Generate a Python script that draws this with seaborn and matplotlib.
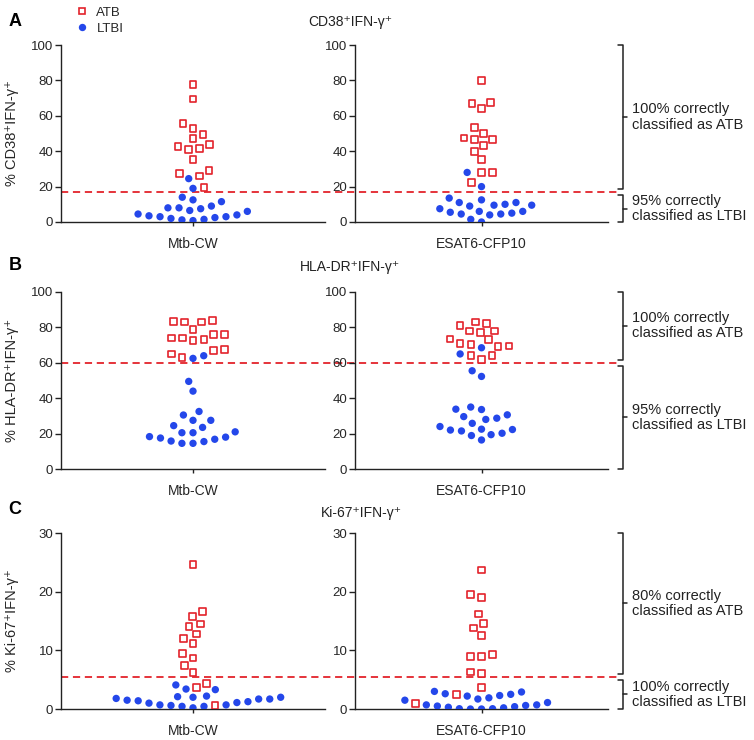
import numpy as np
import pandas as pd
import matplotlib
matplotlib.use("Agg")
import matplotlib.pyplot as plt
from matplotlib.lines import Line2D
from matplotlib.markers import MarkerStyle
from matplotlib.colors import to_rgba
import seaborn as sns

antigens = ["Mtb-CW", "ESAT6-CFP10"]

# panel A: CD38+IFN-g+
cd38_atb_cw = [77.5, 69.5, 55.5, 53, 49.5, 47, 44, 42.5, 41.5, 41, 35.5, 29, 27.5, 26, 19.5]
cd38_ltbi_cw = [24.5, 19, 14, 12.5, 11.5, 9, 8, 7.5, 8, 6, 6.5, 4, 3.5, 4.5, 3, 2.5, 3, 1.5, 2, 0.8, 1.2]
cd38_atb_esat = [80, 67.5, 67, 64, 53.5, 50, 47.5, 46.5, 46.5, 43, 40, 35.5, 28, 28, 22.5]
cd38_ltbi_esat = [28, 20, 13.5, 12.5, 11, 11, 10, 9.5, 9, 9.5, 7.5, 6, 5.5, 4.5, 4, 4.5, 5, 6, 1.5, 0]

# panel B: HLA-DR+IFN-g+
hla_atb_cw = [84, 83.5, 83, 83, 79, 76, 76, 74, 74, 73, 72.5, 67.5, 67, 65, 63]
hla_ltbi_cw = [64, 62.5, 49.5, 44, 30.5, 32.5, 24.5, 27.5, 27.5, 23.5, 21, 20.5, 20.5, 18, 16.8,
               15.5, 14.5, 14.5, 15.8, 17.5, 18.3]
hla_atb_esat = [83, 82, 81, 78, 78, 77, 73.5, 73, 71, 70.5, 69.5, 69, 64, 64, 62]
hla_ltbi_esat = [68.5, 65, 55.5, 52.3, 35, 33.6, 33.8, 29.6, 30.6, 28.7, 28, 25.8, 24, 22.3, 21.5,
                 22.5, 22, 19.4, 18.9, 20.2, 16.4]

# panel C: Ki-67+IFN-g+
ki67_atb_cw = [24.6, 16.6, 15.8, 14.5, 14.1, 12.8, 12, 11.1, 9.4, 8.7, 7.4, 6.2, 4.4, 3.7, 0.6]
ki67_ltbi_cw = [4.1, 3.3, 3.4, 2.2, 2.0, 1.8, 1.7, 1.4, 1.1, 0.7, 0.6, 0.2, 0.45, 0.45, 0.7, 1.0,
                1.25, 1.5, 1.7, 2.0, 2.1]
ki67_atb_esat = [23.7, 19.5, 19, 16.2, 14.6, 13.8, 12.5, 9.3, 9, 9, 6.3, 6.1, 3.7, 2.5, 0.9]
ki67_ltbi_esat = [3.0, 2.6, 2.5, 2.9, 2.2, 1.9, 2.3, 1.7, 1.1, 0.7, 0.6, 0.4, 0.2, 0.05, 0, 0, 0.05,
                  0.3, 0.5, 0.7, 1.5]

cutoffs = [16.8, 60.0, 5.5]
titles = ["CD38\u207aIFN-\u03b3\u207a", "HLA-DR\u207aIFN-\u03b3\u207a", "Ki-67\u207aIFN-\u03b3\u207a"]
ylabels = ["% " + t for t in titles]
letters = ["A", "B", "C"]
ymaxes = [100, 100, 30]
yticks = [[0, 20, 40, 60, 80, 100], [0, 20, 40, 60, 80, 100], [0, 10, 20, 30]]
upper_txt = ["100% correctly\nclassified as ATB", "100% correctly\nclassified as ATB",
             "80% correctly\nclassified as ATB"]
lower_txt = ["95% correctly\nclassified as LTBI", "95% correctly\nclassified as LTBI",
             "100% correctly\nclassified as LTBI"]

atb_sets = [[cd38_atb_cw, cd38_atb_esat], [hla_atb_cw, hla_atb_esat], [ki67_atb_cw, ki67_atb_esat]]
ltbi_sets = [[cd38_ltbi_cw, cd38_ltbi_esat], [hla_ltbi_cw, hla_ltbi_esat], [ki67_ltbi_cw, ki67_ltbi_esat]]

RED = "#e3232b"
BLUE = "#2447ea"
INK = "#222222"

sns.set_style("ticks")
plt.rcParams["font.family"] = ["Liberation Sans", "DejaVu Sans"]

W, H = 754, 740
fig = plt.figure(figsize=(W / 100, H / 100), dpi=100)


def marker_path(m):
    ms = MarkerStyle(m)
    return ms.get_path().transformed(ms.get_transform())


SQUARE = marker_path("s")
CIRCLE = marker_path("o")

# axes boxes in pixels: (left, right), (top, bottom) of each row
cols_px = [(61, 325), (355, 608)]
rows_px = [(45, 222), (292, 469), (533, 709)]
title_y = [22, 267, 513]
title_x = [350, 350, 361]
letter_y = [22, 266, 509]

swarms = []
for r in range(3):
    top, bot = rows_px[r]
    axes = []
    for c in range(2):
        l, rr = cols_px[c]
        ax = fig.add_axes([l / W, 1 - bot / H, (rr - l) / W, (bot - top) / H])
        ax.patch.set_visible(False)
        axes.append(ax)
        atb = atb_sets[r][c]
        ltbi = ltbi_sets[r][c]
        df = pd.DataFrame({
            "antigen": antigens[c],
            "group": ["LTBI"] * len(ltbi) + ["ATB"] * len(atb),
            "value": ltbi + atb,
        })
        # one swarm for both groups; marker size here sets the spacing
        sns.swarmplot(data=df, x="antigen", y="value", hue="group",
                      palette={"ATB": RED, "LTBI": BLUE}, size=7.6, linewidth=0,
                      legend=False, ax=ax)
        swarms.append((ax.collections[0], (df["group"] == "ATB").to_numpy()))

        ax.set_xlim(-0.5, 0.5)
        ax.set_ylim(0, ymaxes[r])
        ax.set_yticks(yticks[r])
        ax.set_xlabel("")
        ax.set_ylabel(ylabels[r] if c == 0 else "", fontsize=10.5)
        ax.yaxis.set_label_coords(-0.16, 0.5)
        sns.despine(ax=ax)
        for s in ["left", "bottom"]:
            ax.spines[s].set_linewidth(1.0)
            ax.spines[s].set_color(INK)
        ax.tick_params(axis="y", length=4, width=1.0, pad=1.5, labelsize=9.5, color=INK)
        ax.tick_params(axis="x", length=3, width=1.0, pad=8, labelsize=10, color=INK)

    # cut-off line running across both panels
    la, ra = axes
    lb, rb = la.get_position(), ra.get_position()
    x_end = (rb.x0 + 1.045 * rb.width - lb.x0) / lb.width
    la.plot([0, x_end], [cutoffs[r], cutoffs[r]], transform=la.get_yaxis_transform(),
            clip_on=False, color=RED, lw=1.3, ls=(0, (4, 2.6)), zorder=2)

    # brackets with classification text
    tr = ra.get_yaxis_transform()
    gap = 0.018 * ymaxes[r]
    spans = [(cutoffs[r] + gap, ymaxes[r], upper_txt[r]), (0, cutoffs[r] - gap, lower_txt[r])]
    for lo, hi, txt in spans:
        ra.plot([1.04, 1.06, 1.06, 1.04], [hi, hi, lo, lo], transform=tr,
                clip_on=False, color=INK, lw=1.1)
        mid = (lo + hi) / 2
        ra.plot([1.06, 1.075], [mid, mid], transform=tr, clip_on=False, color=INK, lw=1.1)
        ra.text(1.095, mid, txt, transform=tr, ha="left", va="center",
                fontsize=10.5, linespacing=1.1, color=INK)

    fig.text(title_x[r] / W, 1 - title_y[r] / H, titles[r], ha="center", va="center",
             fontsize=10, color=INK)
    fig.text(15 / W, 1 - letter_y[r] / H, letters[r], ha="center", va="center",
             fontsize=13, fontweight="bold", color="black")

# let seaborn place the swarm once, then restyle: open squares for ATB, dots for LTBI
fig.canvas.draw()
for pts, is_atb in swarms:
    if "draw" in pts.__dict__:
        del pts.draw
    pts.set_paths([SQUARE if a else CIRCLE for a in is_atb])
    pts.set_sizes(np.where(is_atb, 24.0, 28.0))
    pts.set_facecolors([to_rgba("white") if a else to_rgba(BLUE) for a in is_atb])
    pts.set_edgecolors([to_rgba(RED) if a else (0, 0, 0, 0) for a in is_atb])
    pts.set_linewidths(np.where(is_atb, 1.2, 0.0))
    pts.set_zorder(3)

handles = [
    Line2D([], [], marker="s", ls="", mfc="white", mec=RED, mew=1.2, ms=4.9),
    Line2D([], [], marker="o", ls="", mfc=BLUE, mec="none", ms=5.3),
]
fig.legend(handles, ["ATB", "LTBI"], loc="upper left", bbox_to_anchor=(74 / W, 1 - 5 / H),
           frameon=False, fontsize=9.5, handlelength=1.0, handletextpad=0.6,
           labelspacing=0.3, borderaxespad=0, borderpad=0.1)

fig.savefig("out.png", dpi=100)
